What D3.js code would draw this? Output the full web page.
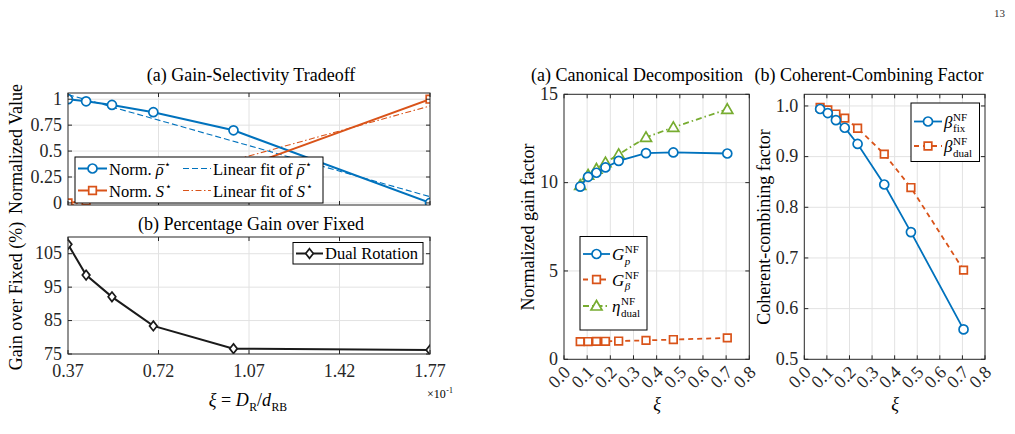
<!DOCTYPE html>
<html>
<head>
<meta charset="utf-8">
<script src="https://cdn.jsdelivr.net/npm/d3@7"></script>
<style>
body { margin: 0; background: #fff; }
svg { font-family: "Liberation Serif", "Times New Roman", serif; }
svg text { white-space: pre; }
</style>
</head>
<body>
<svg id="fig" width="1015" height="434"></svg>
<script>
// left figure, xi in units of 1e-1
var xiL = [0.37, 0.44, 0.54, 0.70, 1.01, 1.77],
    rhoNorm = [1.0, 0.98, 0.945, 0.875, 0.70, 0.0],
    selNorm = [0.0, 0.02, 0.06, 0.14, 0.31, 1.0],
    fitX = [0.37, 1.77],
    rhoFit = [1.045, 0.06],
    selFit = [-0.03, 0.935],
    gainPct = [107.8, 98.6, 92.1, 83.4, 76.6, 76.2],
    xTicksL = [0.37, 0.72, 1.07, 1.42, 1.77],
    yTicksA = [0, 0.25, 0.5, 0.75, 1],
    yTicksB = [75, 85, 95, 105];

// right figure
var xiR = [0.07, 0.104, 0.14, 0.179, 0.236, 0.354, 0.472, 0.705],
    gP = [9.77, 10.33, 10.56, 10.86, 11.23, 11.67, 11.71, 11.65],
    gBeta = [1.0, 1.006, 1.012, 1.02, 1.034, 1.071, 1.117, 1.21],
    etaDual = [9.85, 10.43, 10.77, 11.13, 11.6, 12.56, 13.13, 14.15],
    betaFix = [0.994, 0.986, 0.972, 0.957, 0.925, 0.845, 0.751, 0.559],
    betaDual = [0.997, 0.992, 0.984, 0.976, 0.956, 0.905, 0.839, 0.676],
    xTicksR = [0, 0.1, 0.2, 0.3, 0.4, 0.5, 0.6, 0.7, 0.8],
    yTicksC = [0, 5, 10, 15],
    yTicksD = [0.5, 0.6, 0.7, 0.8, 0.9, 1.0];

var BLUE = "#0072BD", ORANGE = "#D95319", GREEN = "#77AC30", INK = "#262626";

var svg = d3.select("#fig");
var gridLayer = svg.append("g"),
    dataLayer = svg.append("g"),
    axisLayer = svg.append("g"),
    textLayer = svg.append("g");

var markers = {
    circle: "M4.5,0A4.5,4.5 0 1,1 -4.5,0A4.5,4.5 0 1,1 4.5,0Z",
    square: "M-3.8,-3.8H3.8V3.8H-3.8Z",
    diamond: "M0,-4.8L3.8,0L0,4.8L-3.8,0Z",
    triangle: "M0,-5.5L5.5,4L-5.5,4Z"
};

var clipId = 0;
function panel(xs, ys, xt, yt, fx, fy) {
    var X0 = xs.range()[0], X1 = xs.range()[1], Y0 = ys.range()[0], Y1 = ys.range()[1];
    gridLayer.selectAll(null).data(xt.filter(d => xs(d) > X0 + 1 && xs(d) < X1 - 1)).enter().append("line")
        .attr("x1", d => xs(d)).attr("x2", d => xs(d)).attr("y1", Y0).attr("y2", Y1)
        .attr("stroke", "#e2e2e2").attr("stroke-width", 1);
    gridLayer.selectAll(null).data(yt.filter(d => ys(d) < Y0 - 1 && ys(d) > Y1 + 1)).enter().append("line")
        .attr("y1", d => ys(d)).attr("y2", d => ys(d)).attr("x1", X0).attr("x2", X1)
        .attr("stroke", "#e2e2e2").attr("stroke-width", 1);

    var id = "clip" + (clipId++);
    svg.append("clipPath").attr("id", id).append("rect")
        .attr("x", X0).attr("y", Y1).attr("width", X1 - X0).attr("height", Y0 - Y1);
    var g = dataLayer.append("g").attr("clip-path", "url(#" + id + ")");

    var a = axisLayer.append("g");
    a.append("rect").attr("x", X0).attr("y", Y1).attr("width", X1 - X0).attr("height", Y0 - Y1)
        .attr("fill", "none").attr("stroke", INK).attr("stroke-width", 1);
    var tl = 4;
    xt.forEach(function (d) {
        a.append("line").attr("x1", xs(d)).attr("x2", xs(d)).attr("y1", Y0).attr("y2", Y0 - tl).attr("stroke", INK);
        a.append("line").attr("x1", xs(d)).attr("x2", xs(d)).attr("y1", Y1).attr("y2", Y1 + tl).attr("stroke", INK);
    });
    yt.forEach(function (d) {
        a.append("line").attr("y1", ys(d)).attr("y2", ys(d)).attr("x1", X0).attr("x2", X0 + tl).attr("stroke", INK);
        a.append("line").attr("y1", ys(d)).attr("y2", ys(d)).attr("x1", X1).attr("x2", X1 - tl).attr("stroke", INK);
    });
    textLayer.selectAll(null).data(yt).enter().append("text")
        .attr("x", X0 - 6).attr("y", d => ys(d)).attr("dy", "0.32em")
        .attr("text-anchor", "end").attr("font-size", 18).attr("fill", INK)
        .text(fy);
    if (fx) {
        textLayer.selectAll(null).data(xt).enter().append("text")
            .attr("x", d => xs(d)).attr("y", Y0 + 23)
            .attr("text-anchor", "middle").attr("font-size", 18).attr("fill", INK)
            .text(fx);
    }
    return g;
}

function series(g, xs, ys, xv, yv, color, width, dash, marker) {
    var pts = xv.map((d, i) => [xs(d), ys(yv[i])]);
    g.append("path").attr("d", d3.line()(pts)).attr("fill", "none")
        .attr("stroke", color).attr("stroke-width", width)
        .attr("stroke-dasharray", dash || null);
    if (marker) {
        g.selectAll(null).data(pts).enter().append("path")
            .attr("transform", d => "translate(" + d[0] + "," + d[1] + ")")
            .attr("d", markers[marker]).attr("fill", "#fff")
            .attr("stroke", color).attr("stroke-width", 1.7);
    }
}

// math-ish text runs: {t, it, sup, sub, subIt, bar}
function mtext(g, x, y, runs, size) {
    var cx = x;
    runs.forEach(function (r) {
        var t = g.append("text").attr("x", cx).attr("y", y).attr("font-size", size)
            .attr("font-style", r.it ? "italic" : "normal").text(r.t);
        var w = t.node().getComputedTextLength();
        if (r.bar) {
            g.append("line").attr("x1", cx + 2).attr("x2", cx + w + 1)
                .attr("y1", y - size * 0.6).attr("y2", y - size * 0.6)
                .attr("stroke", "#000").attr("stroke-width", 0.9);
        }
        cx += w;
        var w2 = 0, w3 = 0;
        if (r.sup) {
            var s = g.append("text").attr("x", cx + 0.5).attr("y", y - size * 0.4)
                .attr("font-size", size * 0.65).text(r.sup);
            w2 = s.node().getComputedTextLength() + 0.5;
        }
        if (r.sub) {
            var b = g.append("text").attr("x", cx + 0.5).attr("y", y + size * 0.28)
                .attr("font-size", size * 0.65).attr("font-style", r.subIt ? "italic" : "normal").text(r.sub);
            w3 = b.node().getComputedTextLength() + 0.5;
        }
        cx += Math.max(w2, w3);
    });
    return cx - x;
}

function legendBox(x, y, w, h) {
    axisLayer.append("rect").attr("x", x).attr("y", y).attr("width", w).attr("height", h)
        .attr("fill", "#fff").attr("stroke", "#000").attr("stroke-width", 1);
}
function legendSample(x1, x2, y, color, width, dash, marker) {
    axisLayer.append("line").attr("x1", x1).attr("x2", x2).attr("y1", y).attr("y2", y)
        .attr("stroke", color).attr("stroke-width", width).attr("stroke-dasharray", dash || null);
    if (marker) {
        axisLayer.append("path").attr("transform", "translate(" + (x1 + x2) / 2 + "," + y + ")")
            .attr("d", markers[marker]).attr("fill", "#fff").attr("stroke", color).attr("stroke-width", 1.7);
    }
}

function title(txt, cx, y) {
    textLayer.append("text").attr("x", cx).attr("y", y).attr("text-anchor", "middle")
        .attr("font-size", 18).attr("fill", "#000").text(txt);
}
function ylabel(txt, cx, cy) {
    textLayer.append("text").attr("transform", "translate(" + cx + "," + cy + ") rotate(-90)")
        .attr("text-anchor", "middle").attr("font-size", 18).attr("fill", "#000").text(txt);
}
function centered(cx, y, runs, size) {
    var g = textLayer.append("g");
    var w = mtext(g, 0, y, runs, size);
    g.attr("transform", "translate(" + (cx - w / 2) + ",0)");
}

// ---------- (a) Gain-Selectivity Tradeoff ----------
var xL = d3.scaleLinear().domain([0.37, 1.77]).range([68, 430]);
var yA = d3.scaleLinear().domain([-0.02, 1.06]).range([205, 93]);
var gA = panel(xL, yA, xTicksL, yTicksA, null, d3.format("~g"));
series(gA, xL, yA, fitX, rhoFit, BLUE, 1.1, "6,3");
series(gA, xL, yA, fitX, selFit, ORANGE, 1.1, "6,2.5,1.5,2.5");
series(gA, xL, yA, xiL, rhoNorm, BLUE, 2, null, "circle");
series(gA, xL, yA, xiL, selNorm, ORANGE, 2, null, "square");
title("(a) Gain-Selectivity Tradeoff", 251, 81);
ylabel("Normalized Value", 22, 149);

legendBox(75, 157, 248, 46);
legendSample(78, 107, 168.5, BLUE, 2, null, "circle");
legendSample(78, 107, 190.5, ORANGE, 2, null, "square");
legendSample(183, 211, 168.5, BLUE, 1.1, "6,3");
legendSample(183, 211, 190.5, ORANGE, 1.1, "6,2.5,1.5,2.5");
var lg = axisLayer.append("g");
mtext(lg, 109, 174.5, [{t: "Norm. "}, {t: "ρ", it: true, bar: true, sup: "⋆"}], 16.5);
mtext(lg, 109, 196.5, [{t: "Norm. "}, {t: "S", it: true, sup: "⋆"}], 16.5);
mtext(lg, 213, 174.5, [{t: "Linear fit of "}, {t: "ρ", it: true, bar: true, sup: "⋆"}], 16.5);
mtext(lg, 213, 196.5, [{t: "Linear fit of "}, {t: "S", it: true, sup: "⋆"}], 16.5);

// ---------- (b) Percentage Gain over Fixed ----------
var yB = d3.scaleLinear().domain([75, 110]).range([354, 237]);
var gB = panel(xL, yB, xTicksL, yTicksB, d3.format(".2f"), d3.format("d"));
series(gB, xL, yB, xiL, gainPct, "#1a1a1a", 2, null, "diamond");
title("(b) Percentage Gain over Fixed", 251, 230);
ylabel("Gain over Fixed (%)", 22, 296);
legendBox(293, 242.5, 130, 21.5);
legendSample(296, 323, 253.5, "#1a1a1a", 2, null, "diamond");
axisLayer.append("text").attr("x", 325).attr("y", 259).attr("font-size", 16.5).text("Dual Rotation");

centered(248, 406, [{t: "ξ", it: true}, {t: " = "}, {t: "D", it: true, sub: "R"}, {t: "/"}, {t: "d", it: true, sub: "RB"}], 18);
mtext(textLayer.append("g"), 427, 398, [{t: "×10", sup: "-1"}], 12);

// ---------- right (a) Canonical Decomposition ----------
var xC = d3.scaleLinear().domain([0, 0.8]).range([564, 749.3]);
var yC = d3.scaleLinear().domain([0, 15]).range([359.3, 94.3]);
var gC = panel(xC, yC, xTicksR, yTicksC, null, d3.format("d"));
series(gC, xC, yC, xiR, gBeta, ORANGE, 1.8, "5,4", "square");
series(gC, xC, yC, xiR, etaDual, GREEN, 1.8, "6,3,1.5,3", "triangle");
series(gC, xC, yC, xiR, gP, BLUE, 1.8, null, "circle");
title("(a) Canonical Decomposition", 637, 81);
ylabel("Normalized gain factor", 534, 227);

// ---------- right (b) Coherent-Combining Factor ----------
var xD = d3.scaleLinear().domain([0, 0.8]).range([804.3, 985]);
var yD = d3.scaleLinear().domain([0.5, 1.023]).range([359.3, 94.3]);
var gD = panel(xD, yD, xTicksR, yTicksD, null, d3.format(".1f"));
series(gD, xD, yD, xiR, betaDual, ORANGE, 1.8, "5,4", "square");
series(gD, xD, yD, xiR, betaFix, BLUE, 1.8, null, "circle");
title("(b) Coherent-Combining Factor", 869, 81);
ylabel("Coherent-combining factor", 770, 227);

// rotated x tick labels for the right panels
[xC, xD].forEach(function (xs) {
    textLayer.selectAll(null).data(xTicksR).enter().append("text")
        .attr("transform", d => "translate(" + (xs(d) + 3) + ",369) rotate(-45)")
        .attr("text-anchor", "end").attr("dy", "0.35em")
        .attr("font-size", 18).attr("fill", INK)
        .text(d3.format(".1f"));
});
centered(657, 410, [{t: "ξ", it: true}], 18);
centered(895, 410, [{t: "ξ", it: true}], 18);

legendBox(580, 236.5, 67, 93.5);
legendSample(583, 610, 254, BLUE, 1.8, null, "circle");
legendSample(583, 610, 279.5, ORANGE, 1.8, "5,4", "square");
legendSample(583, 610, 306, GREEN, 1.8, "6,3,1.5,3", "triangle");
var lc = axisLayer.append("g");
mtext(lc, 612, 260, [{t: "G", it: true, sup: "NF", sub: "p", subIt: true}], 17);
mtext(lc, 612, 285.5, [{t: "G", it: true, sup: "NF", sub: "β", subIt: true}], 17);
mtext(lc, 612, 312, [{t: "η", it: true, sup: "NF", sub: "dual"}], 17);

legendBox(911, 103, 68.5, 58.5);
legendSample(914, 942, 121.5, BLUE, 1.8, null, "circle");
legendSample(914, 942, 146, ORANGE, 1.8, "5,4", "square");
var ld = axisLayer.append("g");
mtext(ld, 944, 127.5, [{t: "β", it: true, sup: "NF", sub: "fix"}], 17);
mtext(ld, 944, 152, [{t: "β", it: true, sup: "NF", sub: "dual"}], 17);

// page number
textLayer.append("text").attr("x", 1005).attr("y", 17).attr("text-anchor", "end")
    .attr("font-size", 11).attr("fill", "#333").text("13");
</script>
</body>
</html>
